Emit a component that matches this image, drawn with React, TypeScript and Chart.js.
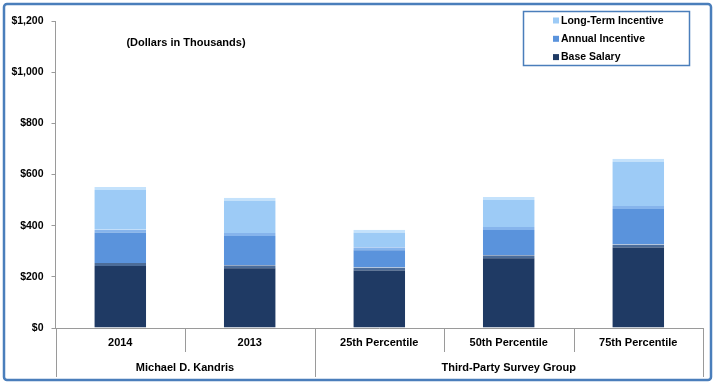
import React, { useEffect, useRef } from "react";
import { Chart, registerables } from "chart.js";

Chart.register(...registerables);

const categories = ["2014", "2013", "25th Percentile", "50th Percentile", "75th Percentile"];
const groupLabels = ["Michael D. Kandris", "Third-Party Survey Group"];
const groupSizes = [2, 3];

const baseSalary = [254, 245, 236, 284, 326];
const annualIncentive = [130, 126, 80, 111, 151];
const longTermIncentive = [167, 138, 68, 117, 185];

const seriesLabels = ["Base Salary", "Annual Incentive", "Long-Term Incentive"];
const seriesColors = ["#1F3A64", "#5A93DC", "#9DCBF6"];
const bevelColors = ["#4C6C98", "#86B4EC", "#C4E2FC"];

const yMin = 0;
const yMax = 1200;
const yStep = 200;

const subtitle = "(Dollars in Thousands)";

const FONT = "'Liberation Sans', Arial, sans-serif";
const FRAME = "#4A7EBB";
const AXIS = "#9A9A9A";

const decorPlugin = {
  id: "decor",
  afterDraw(chart: any) {
    const ctx = chart.ctx as CanvasRenderingContext2D;
    const xs = chart.scales.x;
    const ys = chart.scales.y;
    const n = categories.length;
    const step = (xs.getPixelForValue(n - 1) - xs.getPixelForValue(0)) / (n - 1);
    const y0 = ys.getPixelForValue(0);
    ctx.save();
    ctx.strokeStyle = AXIS;
    ctx.lineWidth = 1;

    // group boundaries
    const groupBounds = new Set<number>();
    let acc = 0;
    groupBounds.add(0);
    groupSizes.forEach((s) => {
      acc += s;
      groupBounds.add(acc);
    });

    for (let i = 0; i <= n; i++) {
      const x = Math.round(xs.getPixelForValue(0) - step / 2 + i * step) + 0.5;
      const isGroup = groupBounds.has(i);
      ctx.beginPath();
      ctx.moveTo(x, y0);
      ctx.lineTo(x, isGroup ? y0 + 49 : y0 + 24);
      ctx.stroke();
    }

    ctx.fillStyle = "#000";
    ctx.textAlign = "center";
    ctx.textBaseline = "middle";
    ctx.font = `bold 11px ${FONT}`;
    categories.forEach((c, i) => {
      ctx.fillText(c, xs.getPixelForValue(i), y0 + 15);
    });
    let start = 0;
    groupLabels.forEach((g, gi) => {
      const size = groupSizes[gi];
      const cx = (xs.getPixelForValue(start) + xs.getPixelForValue(start + size - 1)) / 2;
      ctx.fillText(g, cx, y0 + 40);
      start += size;
    });

    // subtitle
    ctx.font = `bold 11px ${FONT}`;
    ctx.fillText(subtitle, 186, 43);

    // legend
    ctx.strokeStyle = FRAME;
    ctx.lineWidth = 1.5;
    ctx.strokeRect(523.5, 11.5, 166, 54);
    ctx.textAlign = "left";
    ctx.font = `bold 10.5px ${FONT}`;
    const order = [2, 1, 0];
    order.forEach((di, k) => {
      const ds = chart.data.datasets[di];
      const yy = 20.5 + k * 18.3;
      ctx.fillStyle = ds.backgroundColor;
      ctx.fillRect(553, yy - 3, 6, 6);
      ctx.fillStyle = "#000";
      ctx.fillText(ds.label, 561, yy + 0.5);
    });

    // outer frame
    ctx.strokeStyle = FRAME;
    ctx.lineWidth = 2.5;
    ctx.beginPath();
    (ctx as any).roundRect(4, 4, 707, 376, 3);
    ctx.stroke();
    ctx.restore();
  },
};

export default function App() {
  const ref = useRef<HTMLCanvasElement | null>(null);
  useEffect(() => {
    if (!ref.current) return;
    const values = [baseSalary, annualIncentive, longTermIncentive];
    const chart = new Chart(ref.current, {
      type: "bar",
      data: {
        labels: categories,
        datasets: values.map((v, i) => ({
          label: seriesLabels[i],
          data: v,
          backgroundColor: seriesColors[i],
          borderColor: bevelColors[i],
          borderWidth: { top: 3, left: 0, right: 0, bottom: 0 },
          borderSkipped: false,
          barPercentage: 0.4,
          categoryPercentage: 1,
        })),
      },
      options: {
        animation: false,
        responsive: false,
        maintainAspectRatio: false,
        layout: { padding: { left: 0, right: 13, top: 21, bottom: 49 } },
        plugins: {
          legend: { display: false },
          tooltip: { enabled: false },
          title: { display: false },
        },
        scales: {
          x: {
            stacked: true,
            offset: true,
            grid: { display: false },
            ticks: { display: false },
            border: { display: true, color: AXIS },
            afterFit: (s: any) => {
              s.height = 10;
            },
          },
          y: {
            stacked: true,
            min: yMin,
            max: yMax,
            ticks: {
              stepSize: yStep,
              padding: 8,
              color: "#000",
              font: { family: FONT, size: 10.5, weight: "bold" },
              callback: (v: any) => "$" + Number(v).toLocaleString("en-US"),
            },
            grid: { drawOnChartArea: false, drawTicks: true, tickLength: 4, color: AXIS },
            border: { display: true, color: AXIS },
            afterFit: (s: any) => {
              s.width = 55.5;
            },
          },
        },
      },
      plugins: [decorPlugin],
    });
    return () => chart.destroy();
  }, []);
  return (
    <div style={{ position: "fixed", left: 0, top: 0, width: 716, height: 387, background: "#fff" }}>
      <canvas ref={ref} width={716} height={387} style={{ display: "block", width: 716, height: 387 }} />
    </div>
  );
}
